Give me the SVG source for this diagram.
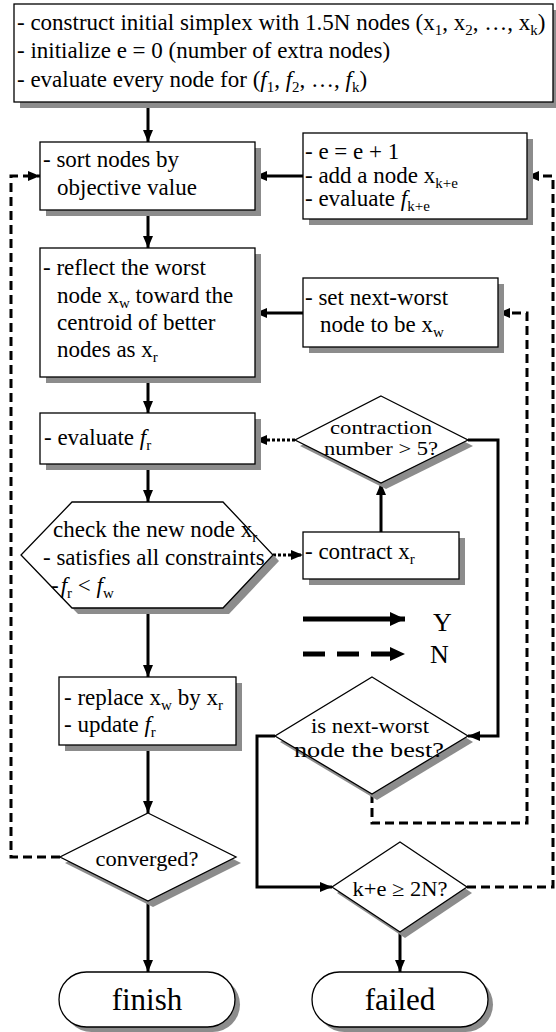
<svg xmlns="http://www.w3.org/2000/svg" width="556" height="1032" viewBox="0 0 556 1032">
<defs>
<style>
text{font-family:"Liberation Serif","Times New Roman",serif;font-size:23px;fill:#000}
.d{font-size:21px}
.ds{font-size:19px}
.big{font-size:31px}
.lg{font-size:26px}
.sub{font-size:15px}
.it{font-style:italic}
.shape{fill:#fff;stroke:#000;stroke-width:1.3}
.shadow{fill:#8c8c8c;stroke:none}
.ln{fill:none;stroke:#000;stroke-width:3}
.dash{fill:none;stroke:#000;stroke-width:3;stroke-dasharray:9 5}
.dot{fill:none;stroke:#000;stroke-width:3;stroke-dasharray:3 2}
</style>
<marker id="ah" markerUnits="userSpaceOnUse" markerWidth="12" markerHeight="10" refX="12" refY="5" orient="auto">
<path d="M0,0 L12,5 L0,10 z" fill="#000"/>
</marker>
<marker id="ahL" markerUnits="userSpaceOnUse" markerWidth="15" markerHeight="14" refX="15" refY="7" orient="auto">
<path d="M0,0 L15,7 L0,14 z" fill="#000"/>
</marker>
</defs>

<g id="connectors">
<path class="ln" d="M148,102 L148,142" marker-end="url(#ah)"/>
<path class="ln" d="M148,210 L148,248" marker-end="url(#ah)"/>
<path class="ln" d="M148,377 L148,413" marker-end="url(#ah)"/>
<path class="ln" d="M148,464 L148,502" marker-end="url(#ah)"/>
<path class="ln" d="M148,608 L148,677" marker-end="url(#ah)"/>
<path class="ln" d="M148,745 L148,813" marker-end="url(#ah)"/>
<path class="ln" d="M148,901 L148,972" marker-end="url(#ah)"/>
<path class="ln" d="M303,176 L255,176" marker-end="url(#ah)"/>
<path class="ln" d="M303,313 L255,313" marker-end="url(#ah)"/>
<path class="ln" d="M381,532 L381,483" marker-end="url(#ah)"/>
<path class="ln" d="M468,440 L498,440 L498,736 L468,736" marker-end="url(#ah)"/>
<path class="ln" d="M275,736 L257,736 L257,887 L332,887" marker-end="url(#ah)"/>
<path class="ln" d="M400,932 L400,972" marker-end="url(#ah)"/>
<path class="dot" d="M295,440 L255,440" marker-end="url(#ah)"/>
<path class="dot" d="M273,555 L303,555" marker-end="url(#ah)"/>
<path class="dash" d="M60,857 L11,857 L11,176 L40,176" marker-end="url(#ah)"/>
<path class="dash" d="M372,794 L372,823 L527,823 L527,313 L498,313" marker-end="url(#ah)"/>
<path class="dash" d="M467,887 L553,887 L553,176 L527,176" marker-end="url(#ah)"/>
</g>

<g id="legend">
<path d="M303,619 L405,619" fill="none" stroke="#000" stroke-width="5" marker-end="url(#ahL)"/>
<text class="lg" x="433" y="631">Y</text>
<path d="M303,654 L405,654" fill="none" stroke="#000" stroke-width="5" stroke-dasharray="22 12" marker-end="url(#ahL)"/>
<text class="lg" x="430" y="663">N</text>
</g>

<g id="init">
<rect class="shadow" x="20" y="10" width="539" height="98"/>
<rect class="shape" x="14" y="4" width="539" height="98"/>
<text x="17" y="30">- construct initial simplex with 1.5N nodes (x<tspan class="sub" dy="5">1</tspan><tspan dy="-5">, x</tspan><tspan class="sub" dy="5">2</tspan><tspan dy="-5">, …, x</tspan><tspan class="sub" dy="5">k</tspan><tspan dy="-5">)</tspan></text>
<text x="17" y="58">- initialize e = 0 (number of extra nodes)</text>
<text x="17" y="87">- evaluate every node for (<tspan class="it">f</tspan><tspan class="sub" dy="5">1</tspan><tspan dy="-5">, </tspan><tspan class="it">f</tspan><tspan class="sub" dy="5">2</tspan><tspan dy="-5">, …, </tspan><tspan class="it">f</tspan><tspan class="sub" dy="5">k</tspan><tspan dy="-5">)</tspan></text>
</g>

<g id="sort">
<rect class="shadow" x="46" y="148" width="215" height="68"/>
<rect class="shape" x="40" y="142" width="215" height="68"/>
<text x="43" y="167">- sort nodes by</text>
<text x="57" y="195">objective value</text>
</g>

<g id="addnode">
<rect class="shadow" x="309" y="139" width="224" height="86"/>
<rect class="shape" x="303" y="133" width="224" height="86"/>
<text x="305" y="159">- e = e + 1</text>
<text x="305" y="183">- add a node x<tspan class="sub" dy="5">k+e</tspan></text>
<text x="305" y="206">- evaluate <tspan class="it">f</tspan><tspan class="sub" dy="5">k+e</tspan></text>
</g>

<g id="reflect">
<rect class="shadow" x="46" y="254" width="215" height="129"/>
<rect class="shape" x="40" y="248" width="215" height="129"/>
<text x="43" y="275">- reflect the worst</text>
<text x="57" y="303">node x<tspan class="sub" dy="5">w</tspan><tspan dy="-5"> toward the</tspan></text>
<text x="57" y="330">centroid of better</text>
<text x="57" y="357">nodes as x<tspan class="sub" dy="5">r</tspan></text>
</g>

<g id="setnext">
<rect class="shadow" x="309" y="284" width="195" height="69"/>
<rect class="shape" x="303" y="278" width="195" height="69"/>
<text x="305" y="305">- set next-worst</text>
<text x="320" y="332">node to be x<tspan class="sub" dy="5">w</tspan></text>
</g>

<g id="evaluate">
<rect class="shadow" x="46" y="419" width="215" height="51"/>
<rect class="shape" x="40" y="413" width="215" height="51"/>
<text x="44" y="445">- evaluate <tspan class="it">f</tspan><tspan class="sub" dy="5">r</tspan></text>
</g>

<g id="contraction">
<polygon class="shadow" points="386,402 473,446 386,489 300,446"/>
<polygon class="shape" points="381,396 468,440 381,483 295,440"/>
<text class="ds" x="381" y="434" text-anchor="middle" textLength="102" lengthAdjust="spacingAndGlyphs">contraction</text>
<text class="ds" x="381" y="455" text-anchor="middle" textLength="114" lengthAdjust="spacingAndGlyphs">number &gt; 5?</text>
</g>

<g id="check">
<polygon class="shadow" points="78,508 229,508 279,561 229,614 78,614 27,561"/>
<polygon class="shape" points="72,502 223,502 273,555 223,608 72,608 21,555"/>
<text x="53" y="537">check the new node x<tspan class="sub" dy="5">r</tspan></text>
<text x="43" y="565">- satisfies all constraints</text>
<text x="51" y="593">-<tspan class="it" dx="2">f</tspan><tspan class="sub" dy="5">r</tspan><tspan dy="-5"> &lt; </tspan><tspan class="it">f</tspan><tspan class="sub" dy="5">w</tspan></text>
</g>

<g id="contract">
<rect class="shadow" x="309" y="538" width="156" height="47"/>
<rect class="shape" x="303" y="532" width="156" height="47"/>
<text x="305" y="559">- contract x<tspan class="sub" dy="5">r</tspan></text>
</g>

<g id="replace">
<rect class="shadow" x="65" y="683" width="177" height="68"/>
<rect class="shape" x="59" y="677" width="177" height="68"/>
<text x="64" y="705">- replace x<tspan class="sub" dy="5">w</tspan><tspan dy="-5"> by x</tspan><tspan class="sub" dy="5">r</tspan></text>
<text x="64" y="732">- update <tspan class="it">f</tspan><tspan class="sub" dy="5">r</tspan></text>
</g>

<g id="nextworst">
<polygon class="shadow" points="377,683 473,742 377,800 280,742"/>
<polygon class="shape" points="372,677 468,736 372,794 275,736"/>
<text class="d" x="370" y="733" text-anchor="middle" textLength="118" lengthAdjust="spacingAndGlyphs">is next-worst</text>
<text class="d" x="369" y="757" text-anchor="middle" textLength="150" lengthAdjust="spacingAndGlyphs">node the best?</text>
</g>

<g id="converged">
<polygon class="shadow" points="153,819 241,863 153,907 65,863"/>
<polygon class="shape" points="148,813 236,857 148,901 60,857"/>
<text class="d" x="147" y="866" text-anchor="middle" textLength="103" lengthAdjust="spacingAndGlyphs">converged?</text>
</g>

<g id="limit">
<polygon class="shadow" points="405,848 472,893 405,938 337,893"/>
<polygon class="shape" points="400,842 467,887 400,932 332,887"/>
<text class="d" x="400" y="896" text-anchor="middle" textLength="95" lengthAdjust="spacingAndGlyphs">k+e ≥ 2N?</text>
</g>

<g id="finish">
<rect class="shadow" x="64" y="977" width="176" height="55" rx="27.5"/>
<rect class="shape" x="59" y="972" width="176" height="55" rx="27.5"/>
<text class="big" x="147" y="1010" text-anchor="middle">finish</text>
</g>

<g id="failed">
<rect class="shadow" x="317" y="977" width="176" height="55" rx="27.5"/>
<rect class="shape" x="312" y="972" width="176" height="55" rx="27.5"/>
<text class="big" x="400" y="1010" text-anchor="middle">failed</text>
</g>
</svg>
